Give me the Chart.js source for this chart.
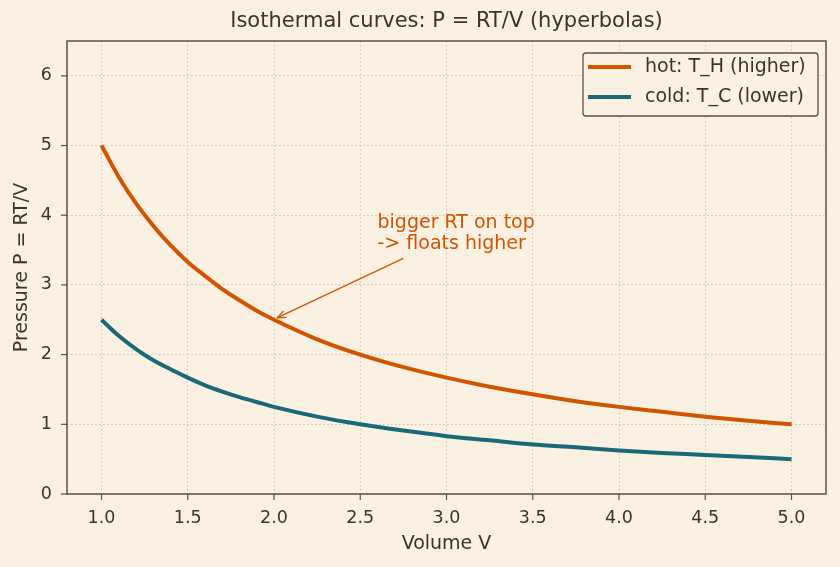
<!DOCTYPE html>
<html>
<head>
<meta charset="utf-8">
<script src="https://cdn.jsdelivr.net/npm/chart.js@4"></script>
<style>
html,body{margin:0;padding:0;background:#faf1e3;}
#wrap{width:840px;height:567px;}
</style>
</head>
<body>
<div id="wrap"><canvas id="isoChart" width="840" height="567"></canvas></div>
<script>
// volume samples and pressures
const volume = [1.0,1.1,1.2,1.3,1.4,1.5,1.6,1.7,1.8,1.9,2.0,2.25,2.5,2.75,3.0,3.25,3.5,3.75,4.0,4.25,4.5,4.75,5.0];
const hotP  = [5.0,4.55,4.17,3.85,3.57,3.33,3.13,2.94,2.78,2.63,2.5,2.22,2.0,1.82,1.67,1.54,1.43,1.33,1.25,1.18,1.11,1.05,1.0];
const coldP = [2.5,2.27,2.08,1.92,1.79,1.67,1.56,1.47,1.39,1.32,1.25,1.11,1.0,0.91,0.83,0.77,0.71,0.67,0.625,0.59,0.56,0.53,0.5];
const xTicks = [1.0,1.5,2.0,2.5,3.0,3.5,4.0,4.5,5.0];
const yTicks = [0,1,2,3,4,5,6];

const TEXT = "#3b3428", FRAME = "#5b5142", GRID = "#cdc3b1";
const FONT = "DejaVu Sans";

function pts(ys){ return volume.map((v,i)=>({x:v,y:ys[i]})); }

const decor = {
  id:"decor",
  afterDatasetsDraw(chart){
    const {ctx, chartArea:a, scales:{x,y}} = chart;
    ctx.save();
    // frame
    ctx.strokeStyle = FRAME; ctx.lineWidth = 1.5;
    ctx.strokeRect(a.left, a.top, a.right-a.left, a.bottom-a.top);
    // tick marks
    ctx.lineWidth = 1.2;
    xTicks.forEach(t=>{ const px=x.getPixelForValue(t); ctx.beginPath(); ctx.moveTo(px,a.bottom); ctx.lineTo(px,a.bottom+6); ctx.stroke(); });
    yTicks.forEach(t=>{ const py=y.getPixelForValue(t); ctx.beginPath(); ctx.moveTo(a.left,py); ctx.lineTo(a.left-6,py); ctx.stroke(); });
    // title + axis titles
    ctx.fillStyle = TEXT; ctx.font = "21px '"+FONT+"'"; ctx.textAlign="center"; ctx.textBaseline="middle";
    ctx.fillText("Isothermal curves: P = RT/V (hyperbolas)", (a.left+a.right)/2, 22);
    ctx.font = "19px '"+FONT+"'";
    ctx.fillText("Volume V", (a.left+a.right)/2, 544);
    ctx.save(); ctx.translate(22,(a.top+a.bottom)/2); ctx.rotate(-Math.PI/2);
    ctx.fillText("Pressure P = RT/V", 0, 0); ctx.restore();
    // annotation
    const orange = chart.data.datasets[0].borderColor;
    const hx = x.getPixelForValue(2.02), hy = y.getPixelForValue(2.53);
    const tx = x.getPixelForValue(2.75), ty = y.getPixelForValue(3.38);
    ctx.strokeStyle = orange; ctx.fillStyle = orange; ctx.lineWidth = 1.3;
    ctx.beginPath(); ctx.moveTo(tx,ty); ctx.lineTo(hx,hy); ctx.stroke();
    const ang = Math.atan2(hy-ty, hx-tx), L = 9;
    ctx.beginPath();
    ctx.moveTo(hx - L*Math.cos(ang-0.4), hy - L*Math.sin(ang-0.4));
    ctx.lineTo(hx,hy);
    ctx.lineTo(hx - L*Math.cos(ang+0.4), hy - L*Math.sin(ang+0.4));
    ctx.stroke();
    ctx.font = "19px '"+FONT+"'"; ctx.textAlign="left"; ctx.textBaseline="middle";
    const lx = x.getPixelForValue(2.6);
    ctx.fillText("bigger RT on top", lx, y.getPixelForValue(3.89));
    ctx.fillText("-> floats higher", lx, y.getPixelForValue(3.59));
    // legend
    const bx=583, by=53, bw=235, bh=63;
    ctx.fillStyle = "#faf1e3"; ctx.strokeStyle = FRAME; ctx.lineWidth = 1.3;
    ctx.beginPath(); ctx.roundRect(bx,by,bw,bh,3); ctx.fill(); ctx.stroke();
    ctx.font = "19px '"+FONT+"'";
    chart.data.datasets.forEach((ds,i)=>{
      const cy = by+14+i*30;
      ctx.strokeStyle = ds.borderColor; ctx.lineWidth = 4;
      ctx.beginPath(); ctx.moveTo(bx+5,cy); ctx.lineTo(bx+48,cy); ctx.stroke();
      ctx.fillStyle = TEXT; ctx.fillText(ds.label, bx+62, cy);
    });
    ctx.restore();
  }
};

new Chart(document.getElementById("isoChart"),{
  type:"line",
  data:{
    datasets:[
      {label:"hot: T_H (higher)", data:pts(hotP), borderColor:"#d35400", borderWidth:4, pointRadius:0, cubicInterpolationMode:"monotone", fill:false},
      {label:"cold: T_C (lower)", data:pts(coldP), borderColor:"#1a6878", borderWidth:4, pointRadius:0, cubicInterpolationMode:"monotone", fill:false}
    ]
  },
  options:{
    responsive:false, animation:false,
    layout:{padding:{top:41,right:14,left:0,bottom:0}},
    plugins:{legend:{display:false}, title:{display:false}, tooltip:{enabled:false}},
    scales:{
      x:{
        type:"linear", min:0.8, max:5.2,
        afterBuildTicks:s=>{ s.ticks = xTicks.map(v=>({value:v})); },
        afterFit:s=>{ s.height = 73; },
        ticks:{color:TEXT, font:{family:FONT,size:17.5}, padding:14, maxRotation:0, callback:v=>v.toFixed(1)},
        grid:{color:GRID, lineWidth:1, drawTicks:false},
        border:{display:false, dash:[1.5,2.5]}
      },
      y:{
        min:0, max:6.5,
        afterBuildTicks:s=>{ s.ticks = yTicks.map(v=>({value:v})); },
        afterFit:s=>{ s.width = 67; },
        ticks:{color:TEXT, font:{family:FONT,size:17.5}, padding:15},
        grid:{color:GRID, lineWidth:1, drawTicks:false},
        border:{display:false, dash:[1.5,2.5]}
      }
    }
  },
  plugins:[decor]
});
</script>
</body>
</html>
